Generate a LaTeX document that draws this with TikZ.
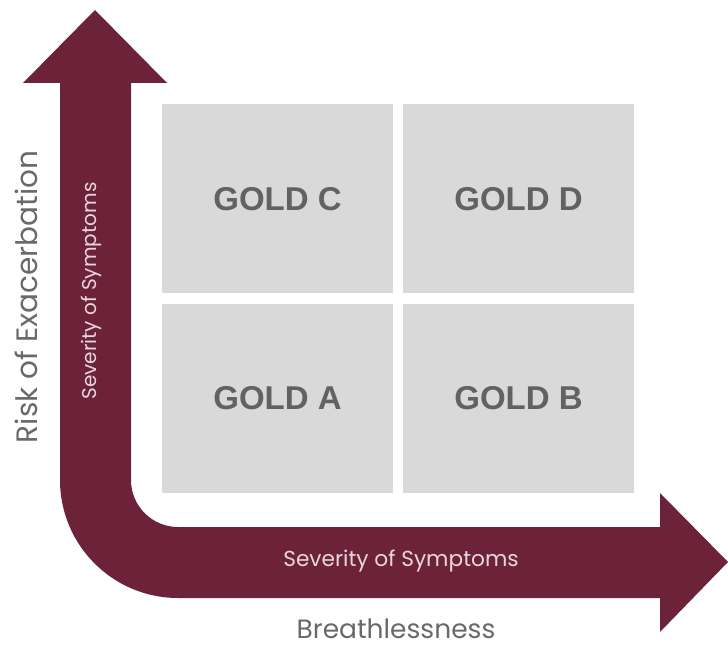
\documentclass[tikz,border=0pt]{standalone}
\usepackage{fontspec}
\setmainfont{Poppins}
\newfontfamily\goldfont{Liberation Sans}
\definecolor{maroon}{RGB}{108,34,57}
\definecolor{boxgray}{RGB}{217,217,217}
\definecolor{goldtext}{RGB}{98,98,98}
\definecolor{axistext}{RGB}{105,105,105}
\definecolor{arrowtext}{RGB}{232,214,220}
\begin{document}
\begin{tikzpicture}[x=1pt,y=1pt,
    goldbox/.style={fill=boxgray, minimum width=231pt, minimum height=189pt,
        inner sep=0pt, text=goldtext, font=\goldfont\bfseries\fontsize{33}{33}\selectfont},
    axislabel/.style={text=axistext, inner sep=0pt},
    arrowlabel/.style={text=arrowtext, inner sep=0pt}]
    \useasboundingbox (0,0) rectangle (728,646);

    % Flecha en L
    \fill[maroon] (95,636) -- (167,563) -- (131,563) -- (131,166)
        arc[start angle=180, end angle=270, radius=47] -- (660,119)
        -- (660,153) -- (728,84) -- (660,14) -- (660,48) -- (178,48)
        arc[start angle=270, end angle=180, radius=118] -- (60,563)
        -- (23,563) -- cycle;

    \node[goldbox] (goldC) at (277.5,447) {GOLD C};
    \node[goldbox] (goldD) at (518.5,447) {GOLD D};
    \node[goldbox] (goldA) at (277.5,247.5) {GOLD A};
    \node[goldbox] (goldB) at (518.5,247.5) {GOLD B};

    \node[axislabel, rotate=90, font=\fontsize{29.5}{30}\selectfont] (risk) at (26,349) {Risk of Exacerbation};
    \node[axislabel, font=\fontsize{26.5}{27}\selectfont] (breath) at (396,17) {Breathlessness};
    \node[arrowlabel, rotate=90, font=\fontsize{20}{20}\selectfont] (sevV) at (91,355) {Severity of Symptoms};
    \node[arrowlabel, font=\fontsize{21.7}{22}\selectfont] (sevH) at (401,85) {Severity of Symptoms};
\end{tikzpicture}
\end{document}
